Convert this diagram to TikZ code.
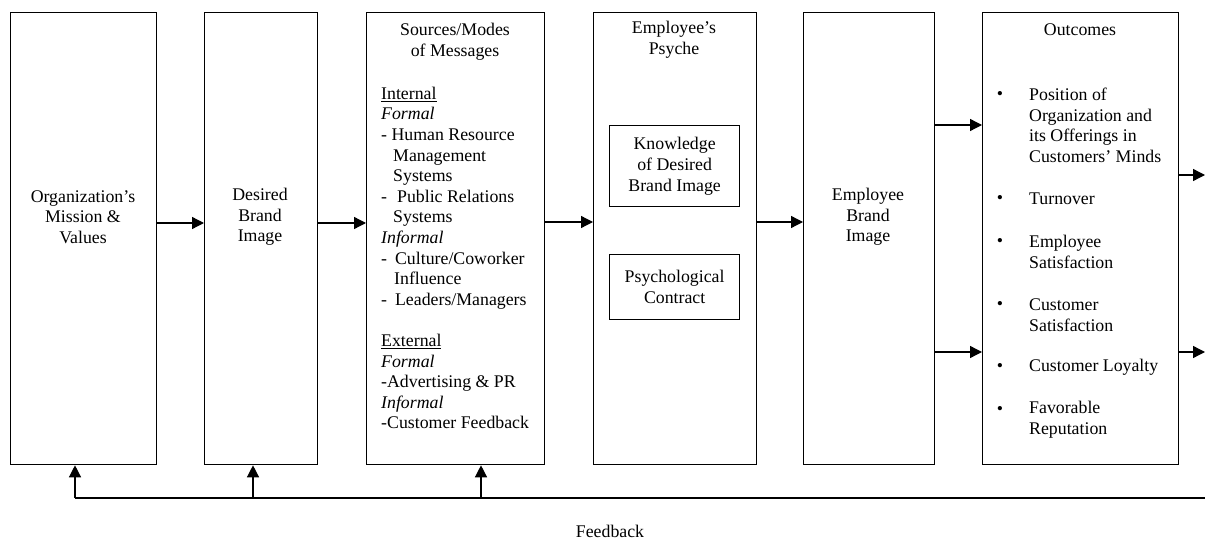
\documentclass[tikz,border=0pt]{standalone}
\usepackage{fontspec}
\setmainfont{Liberation Serif}
\usetikzlibrary{arrows.meta}
\begin{document}
\begin{tikzpicture}[x=1pt,y=-1pt,
  box/.style={draw, line width=1.3pt, rectangle, inner sep=0pt, anchor=north west, minimum height=452pt},
  inbox/.style={draw, line width=1.3pt, rectangle, inner sep=0pt, anchor=north west, minimum width=130pt},
  line/.style={line width=1.3pt},
  arr/.style={line width=1.3pt, -{Triangle[length=12pt,width=12pt]}},
  txt/.style={font=\fontsize{17.8}{20.6}\selectfont, align=center, inner sep=0pt},
  ltxt/.style={font=\fontsize{17.8}{20.6}\selectfont, align=left, inner sep=0pt, anchor=west},
  bul/.style={font=\fontsize{17.8}{20.6}\selectfont, inner sep=0pt}
]
\useasboundingbox (0,0) rectangle (1205,540);

% main boxes
\node[box, minimum width=146pt] (b1) at (10,12) {};
\node[box, minimum width=113pt] (b2) at (204,12) {};
\node[box, minimum width=178pt] (b3) at (366,12) {};
\node[box, minimum width=163pt] (b4) at (593,12) {};
\node[inbox, minimum height=81pt] (k1) at (609,125) {};
\node[inbox, minimum height=65pt] (k2) at (609,254) {};
\node[box, minimum width=131pt] (b5) at (803,12) {};
\node[box, minimum width=196pt] (b6) at (982,12) {};

% texts
\node[txt] (t1) at (83,217) {Organization’s\\Mission \&\\Values};
\node[txt] (t2) at (260,217) {Desired\\Brand\\Image};
\node[txt] (t3) at (455,42) {Sources/Modes\\of Messages};
\node[ltxt] (t3b) at (381,258) {\underline{Internal}\\
\textit{Formal}\\
- Human Resource\\
\hspace*{12pt}Management\\
\hspace*{12pt}Systems\\
-\hspace*{10pt}Public Relations\\
\hspace*{12pt}Systems\\
\textit{Informal}\\
-\hspace*{8pt}Culture/Coworker\\
\hspace*{13pt}Influence\\
-\hspace*{8pt}Leaders/Managers\\[20.6pt]
\underline{External}\\
\textit{Formal}\\
-Advertising \& PR\\
\textit{Informal}\\
-Customer Feedback};
\node[txt] (t4) at (674,40) {Employee’s\\Psyche};
\node[txt] (tk1) at (k1.center) {Knowledge\\of Desired\\Brand Image};
\node[txt] (tk2) at (k2.center) {Psychological\\Contract};
\node[txt] (t5) at (868,217) {Employee\\Brand\\Image};
\node[txt] (t6) at (1080,30) {Outcomes};

\node[ltxt] (o1) at (1029,125.5) {Position of\\Organization and\\its Offerings in\\Customers’ Minds};
\node[ltxt] (o2) at (1029,199) {Turnover};
\node[ltxt] (o3) at (1029,252) {Employee\\Satisfaction};
\node[ltxt] (o4) at (1029,315) {Customer\\Satisfaction};
\node[ltxt] (o5) at (1029,367) {Customer Loyalty};
\node[ltxt] (o6) at (1029,420) {Favorable\\Reputation};
\node[bul] (u1) at (1000,95) {\textbullet};
\node[bul] (u2) at (1000,199) {\textbullet};
\node[bul] (u3) at (1000,242) {\textbullet};
\node[bul] (u4) at (1000,305) {\textbullet};
\node[bul] (u5) at (1000,367) {\textbullet};
\node[bul] (u6) at (1000,410) {\textbullet};

\node[txt] (fbt) at (610,531) {Feedback};

% forward arrows
\coordinate (ya) at (0,223);
\coordinate (yb) at (0,222);
\coordinate (yc) at (0,125);
\coordinate (yd) at (0,352);
\draw[arr] (b1.east |- ya) -- (b2.west |- ya);
\draw[arr] (b2.east |- ya) -- (b3.west |- ya);
\draw[arr] (b3.east |- yb) -- (b4.west |- yb);
\draw[arr] (b4.east |- yb) -- (b5.west |- yb);
\draw[arr] (b5.east |- yc) -- (b6.west |- yc);
\draw[arr] (b5.east |- yd) -- (b6.west |- yd);

% outgoing arrows
\coordinate (out1) at (1205,175);
\coordinate (out2) at (1205,352);
\draw[arr] (b6.east |- out1) -- (out1);
\draw[arr] (b6.east |- out2) -- (out2);

% feedback
\coordinate (f1) at (75,498);
\coordinate (f2) at (253,498);
\coordinate (f3) at (481,498);
\coordinate (fR) at (1205,498);
\draw[line] (f1) -- (fR);
\draw[arr] (f1) -- (f1 |- b1.south);
\draw[arr] (f2) -- (f2 |- b2.south);
\draw[arr] (f3) -- (f3 |- b3.south);
\end{tikzpicture}
\end{document}
